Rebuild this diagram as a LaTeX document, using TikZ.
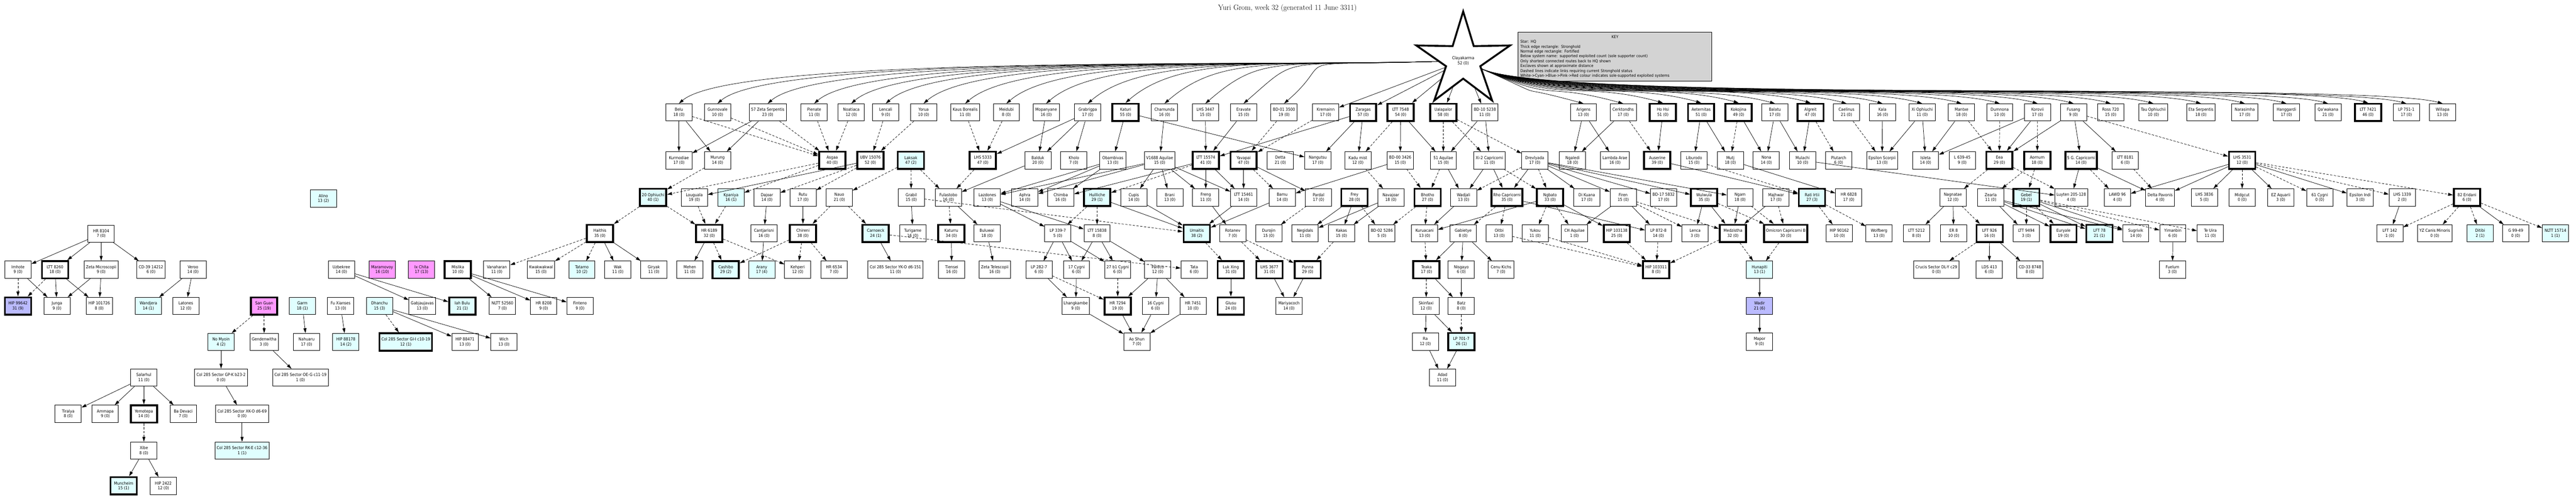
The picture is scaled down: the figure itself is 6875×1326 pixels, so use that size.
\documentclass[tikz,border=0pt]{standalone}
\usepackage{fontspec}
\usetikzlibrary{shapes.geometric,arrows.meta}
\newfontfamily\nf{DejaVu Sans Condensed}
\definecolor{cy}{RGB}{224,255,255}
\definecolor{pk}{RGB}{255,153,255}
\definecolor{bl}{RGB}{187,187,255}
\definecolor{kg}{RGB}{211,211,211}
\newcommand\SYS[5]{\node[n,#1] (#2) at (#3,-#4) {#5};}
\tikzset{
 n/.style={draw, line width=1.3pt, fill=white, align=center, inner sep=5pt, minimum width=70pt, minimum height=46pt, font=\nf\fontsize{11}{13}\selectfont},
 th/.style={line width=5pt},
 c/.style={fill=cy}, p/.style={fill=pk}, b/.style={fill=bl},
 e/.style={-{Triangle[length=13pt,width=8pt]}, line width=1pt},
 ed/.style={e, dash pattern=on 6pt off 4pt},
}
\begin{document}
\begin{tikzpicture}[x=1pt,y=1pt]
\useasboundingbox (0,0) rectangle (6875,-1326);
\node[font=\fontsize{20}{22}\selectfont] (title) at (3436,-22) {Yuri Grom, week 32 (generated 11 June 3311)};
\node[star, star points=5, star point ratio=2.74, minimum size=263pt, draw, line width=5pt, fill=white, align=center, inner sep=0pt, font=\nf\fontsize{11}{13}\selectfont] (hq) at (3905,-162) {Clayakarma\\52 (0)};
\node[draw, line width=1.3pt, fill=kg, anchor=north west, align=left, text width=505pt, minimum height=131pt, inner sep=6pt, font=\nf\fontsize{10.5}{13}\selectfont] (key) at (4051,-85) {\centerline{KEY}\\Star: HQ\\Thick edge rectangle: Stronghold\\Normal edge rectangle: Fortified\\Below system name: supported exploited count (sole supporter count)\\Only shortest connected routes back to HQ shown\\Exclaves shown at approximate distance\\Dashed lines indicate links requiring current Stronghold status\\White->Cyan->Blue->Pink->Red colour indicates sole-supported exploited systems};
% Row A
\SYS{}{belu}{1812}{300}{Belu\\18 (0)}
\SYS{}{gunn}{1915}{300}{Gunnovale\\10 (0)}
\SYS{}{zs57}{2049}{300}{57 Zeta Serpentis\\23 (0)}
\SYS{}{pien}{2173}{300}{Pienate\\11 (0)}
\SYS{}{noat}{2272}{300}{Noatiaca\\12 (0)}
\SYS{}{lenc}{2364}{300}{Lencali\\9 (0)}
\SYS{}{yoru}{2465}{300}{Yorua\\10 (0)}
\SYS{}{kaus}{2576}{300}{Kaus Borealis\\11 (0)}
\SYS{}{meid}{2686}{300}{Meidubi\\8 (0)}
\SYS{}{mopa}{2792}{300}{Mopanyane\\16 (0)}
\SYS{}{grab}{2903}{300}{Grabrigpa\\17 (0)}
\SYS{th}{katu}{3004}{300}{Katuri\\55 (0)}
\SYS{}{cham}{3108}{300}{Chamunda\\16 (0)}
\SYS{}{lh3447}{3217}{300}{LHS 3447\\15 (0)}
\SYS{}{erav}{3319}{300}{Eravate\\15 (0)}
\SYS{}{bd01}{3427}{300}{BD-01 3500\\19 (0)}
\SYS{}{krem}{3538}{300}{Kremainn\\17 (0)}
\SYS{th}{zara}{3638}{300}{Zaragas\\57 (0)}
\SYS{th}{lt7548}{3738}{300}{LTT 7548\\54 (0)}
\SYS{th}{uala}{3852}{300}{Ualapalor\\58 (0)}
\SYS{}{bd10}{3963}{300}{BD-10 5238\\11 (0)}
\SYS{}{arig}{4226}{300}{Arigens\\13 (0)}
\SYS{}{cerk}{4332}{300}{Cerktondhs\\17 (0)}
\SYS{th}{hohs}{4438}{300}{Ho Hsi\\51 (0)}
\SYS{th}{aete}{4540}{300}{Aeternitas\\51 (0)}
\SYS{th}{koko}{4640}{300}{Kokojina\\49 (0)}
\SYS{}{bala}{4737}{300}{Balatu\\17 (0)}
\SYS{th}{algr}{4832}{300}{Algreit\\47 (0)}
\SYS{}{cael}{4928}{300}{Caelinus\\21 (0)}
\SYS{}{kala}{5024}{300}{Kala\\16 (0)}
\SYS{}{xiop}{5130}{300}{Xi Ophiuchi\\11 (0)}
\SYS{}{mant}{5235}{300}{Mantxe\\18 (0)}
\SYS{}{dumn}{5337}{300}{Dumnona\\10 (0)}
\SYS{}{koro}{5438}{300}{Korovii\\17 (0)}
\SYS{}{fusa}{5534}{300}{Fusang\\9 (0)}
\SYS{}{ross}{5633}{300}{Ross 720\\15 (0)}
\SYS{}{tauo}{5747}{300}{Tau Ophiuchii\\10 (0)}
\SYS{}{etas}{5874}{300}{Eta Serpentis\\18 (0)}
\SYS{}{nara}{5991}{300}{Narasimha\\17 (0)}
\SYS{}{hang}{6102}{300}{Hanggardi\\17 (0)}
\SYS{}{qawa}{6213}{300}{Qa'wakana\\21 (0)}
\SYS{th}{lt7421}{6320}{300}{LTT 7421\\46 (0)}
\SYS{}{lp751}{6422}{300}{LP 751-1\\17 (0)}
\SYS{}{will}{6519}{300}{Willapa\\13 (0)}
% Row B
\SYS{}{kurm}{1812}{428}{Kurmodiae\\17 (0)}
\SYS{}{muru}{1915}{428}{Murung\\14 (0)}
\SYS{th}{asga}{2221}{428}{Asgaa\\40 (0)}
\SYS{th}{ubv}{2323}{428}{UBV 15076\\52 (0)}
\SYS{th,c}{laks}{2431}{428}{Laksak\\47 (2)}
\SYS{th}{lh5333}{2623}{428}{LHS 5333\\47 (0)}
\SYS{}{bald}{2770}{428}{Balduk\\20 (0)}
\SYS{}{khol}{2866}{428}{Kholo\\7 (0)}
\SYS{}{obam}{2970}{428}{Obambivas\\13 (0)}
\SYS{}{v1688}{3095}{428}{V1688 Aquilae\\15 (0)}
\SYS{th}{lt15574}{3218}{428}{LTT 15574\\41 (0)}
\SYS{th}{yava}{3319}{428}{Yavapai\\47 (0)}
\SYS{}{dett}{3417}{428}{Detta\\21 (0)}
\SYS{}{nang}{3517}{428}{Nangutsu\\17 (0)}
\SYS{}{kadu}{3624}{428}{Kadu mist\\12 (0)}
\SYS{}{bd00}{3737}{428}{BD-00 3426\\15 (0)}
\SYS{}{aq51}{3852}{428}{51 Aquilae\\15 (0)}
\SYS{}{xi2c}{3975}{428}{Xi-2 Capricorni\\11 (0)}
\SYS{}{drev}{4096}{428}{Drevlyada\\17 (0)}
\SYS{}{ngal}{4197}{428}{Ngaledi\\18 (0)}
\SYS{}{lamb}{4310}{428}{Lambda Arae\\16 (0)}
\SYS{th}{ause}{4423}{428}{Auserine\\39 (0)}
\SYS{}{libu}{4521}{428}{Liburodo\\15 (0)}
\SYS{}{mutj}{4618}{428}{Mutj\\18 (0)}
\SYS{}{nona}{4714}{428}{Nona\\14 (0)}
\SYS{}{mula}{4811}{428}{Mulachi\\10 (0)}
\SYS{}{plut}{4907}{428}{Plutarch\\6 (0)}
\SYS{}{epsc}{5023}{428}{Epsilon Scorpii\\13 (0)}
\SYS{}{isle}{5139}{428}{Isleta\\14 (0)}
\SYS{}{l639}{5237}{428}{L 639-45\\9 (0)}
\SYS{th}{eea}{5336}{428}{Eea\\29 (0)}
\SYS{th}{aorn}{5437}{428}{Aornum\\18 (0)}
\SYS{th}{g5c}{5554}{428}{5 G. Capricorni\\14 (0)}
\SYS{}{lt8181}{5672}{428}{LTT 8181\\6 (0)}
\SYS{th}{lh3531}{5984}{428}{LHS 3531\\12 (0)}
% Row C
\SYS{c}{alin}{863}{530}{Alino\\13 (2)}
\SYS{th,c}{oph20}{1743}{527}{20 Ophiuchi\\40 (1)}
\SYS{}{loug}{1853}{527}{Louguala\\19 (0)}
\SYS{c}{kpan}{1951}{527}{Kpaniya\\16 (1)}
\SYS{}{dajo}{2047}{527}{Dajoar\\14 (0)}
\SYS{}{rutu}{2143}{527}{Rutu\\17 (0)}
\SYS{}{nauo}{2240}{527}{Nauo\\21 (0)}
\SYS{}{grbl}{2432}{527}{Grabil\\15 (0)}
\SYS{}{fula}{2531}{527}{Fulastobo\\16 (0)}
\SYS{}{lazd}{2635}{527}{Lazdones\\13 (0)}
\SYS{}{aphr}{2735}{527}{Aphra\\14 (0)}
\SYS{}{chim}{2831}{527}{Chimba\\16 (0)}
\SYS{th,c}{huil}{2928}{527}{Huilliche\\29 (1)}
\SYS{}{cupi}{3026}{527}{Cupis\\14 (0)}
\SYS{}{bran}{3122}{527}{Brani\\13 (0)}
\SYS{}{fren}{3218}{527}{Freng\\11 (0)}
\SYS{}{lt15461}{3319}{527}{LTT 15461\\14 (0)}
\SYS{}{bamu}{3422}{527}{Bamu\\14 (0)}
\SYS{}{pard}{3519}{527}{Pardal\\17 (0)}
\SYS{th}{frey}{3615}{527}{Frey\\28 (0)}
\SYS{}{nava}{3712}{527}{Navajoar\\18 (0)}
\SYS{th}{bhot}{3810}{527}{Bhotho\\27 (0)}
\SYS{}{wadj}{3906}{527}{Wadjali\\13 (0)}
\SYS{th}{rhoc}{4022}{527}{Rho Capricorni\\35 (0)}
\SYS{th}{ngba}{4137}{527}{Ngbato\\33 (0)}
\SYS{}{diku}{4235}{527}{Di Kuana\\17 (0)}
\SYS{}{fire}{4332}{527}{Firen\\15 (0)}
\SYS{}{bd17}{4440}{527}{BD-17 5832\\17 (0)}
\SYS{th}{wulw}{4548}{527}{Wulwula\\35 (0)}
\SYS{}{ngam}{4644}{527}{Ngam\\18 (0)}
\SYS{}{majh}{4740}{527}{Majhwar\\17 (0)}
\SYS{th,c}{rati}{4836}{527}{Rati Irtii\\27 (3)}
\SYS{}{hr6828}{4934}{527}{HR 6828\\17 (0)}
\SYS{}{nagn}{5212}{527}{Nagnatae\\12 (0)}
\SYS{}{zear}{5313}{527}{Zearla\\11 (0)}
\SYS{th,c}{gebe}{5408}{527}{Gebel\\19 (1)}
\SYS{}{luyt}{5528}{527}{Luyten 205-128\\4 (0)}
\SYS{}{lawd}{5651}{527}{LAWD 96\\4 (0)}
\SYS{}{delp}{5765}{527}{Delta Pavonis\\4 (0)}
\SYS{}{lh3836}{5883}{527}{LHS 3836\\5 (0)}
\SYS{}{midg}{5984}{527}{Midgcut\\0 (0)}
\SYS{}{ezaq}{6087}{527}{EZ Aquarii\\3 (0)}
\SYS{}{cy61}{6191}{527}{61 Cygni\\0 (0)}
\SYS{}{epsi}{6299}{527}{Epsilon Indi\\3 (0)}
\SYS{}{lh1339}{6411}{527}{LHS 1339\\2 (0)}
\SYS{th}{er82}{6584}{527}{82 Eridani\\6 (0)}
% Row D
\SYS{}{hr8104}{270}{624}{HR 8104\\7 (0)}
\SYS{th}{hait}{1601}{623}{Haithis\\35 (0)}
\SYS{th}{hr6189}{1893}{623}{HR 6189\\32 (0)}
\SYS{}{cant}{2039}{623}{Cantjarisni\\16 (0)}
\SYS{th}{chir}{2143}{623}{Chireni\\38 (0)}
\SYS{th,c}{carn}{2337}{623}{Carnoeck\\24 (1)}
\SYS{}{turi}{2436}{623}{Turigame\\16 (0)}
\SYS{th}{katr}{2539}{623}{Katurru\\34 (0)}
\SYS{}{bulu}{2634}{623}{Buluwai\\18 (0)}
\SYS{}{lp339}{2823}{623}{LP 339-7\\5 (0)}
\SYS{}{lt15838}{2928}{623}{LTT 15838\\8 (0)}
\SYS{th,c}{umai}{3194}{623}{Umaitis\\38 (2)}
\SYS{}{rota}{3290}{623}{Rotanev\\7 (0)}
\SYS{}{duro}{3386}{623}{Durojin\\15 (0)}
\SYS{}{negi}{3483}{623}{Negidals\\11 (0)}
\SYS{}{kaka}{3580}{623}{Kakas\\15 (0)}
\SYS{}{bd02}{3688}{623}{BD-02 5286\\5 (0)}
\SYS{}{kuru}{3802}{623}{Kuruacani\\13 (0)}
\SYS{}{gabi}{3905}{623}{Gabietye\\8 (0)}
\SYS{}{oitb}{4001}{623}{Oitbi\\13 (0)}
\SYS{}{yuko}{4097}{623}{Yukou\\11 (0)}
\SYS{}{chaq}{4202}{623}{CH Aquilae\\1 (0)}
\SYS{th}{h103138}{4315}{623}{HIP 103138\\25 (0)}
\SYS{}{lp872}{4426}{623}{LP 872-8\\14 (0)}
\SYS{}{lenca}{4524}{623}{Lenca\\3 (0)}
\SYS{th}{medz}{4625}{623}{Medzistha\\32 (0)}
\SYS{th}{omic}{4766}{623}{Omicron Capricorni B\\30 (0)}
\SYS{}{h90162}{4909}{623}{HIP 90162\\10 (0)}
\SYS{}{wolf}{5015}{623}{Wolfberg\\13 (0)}
\SYS{}{lt5212}{5115}{623}{LTT 5212\\8 (0)}
\SYS{}{er8}{5214}{623}{ER 8\\10 (0)}
\SYS{th}{lf926}{5310}{623}{LFT 926\\16 (0)}
\SYS{}{lt9494}{5408}{623}{LTT 9494\\3 (0)}
\SYS{th}{eury}{5507}{623}{Euryale\\19 (0)}
\SYS{th,c}{lf78}{5603}{623}{LFT 78\\21 (1)}
\SYS{}{sugr}{5700}{623}{Sugrivik\\14 (0)}
\SYS{}{yima}{5799}{623}{Yimanbin\\6 (0)}
\SYS{}{teui}{5899}{623}{Te Uira\\11 (0)}
\SYS{}{lf142}{6378}{623}{LFT 142\\1 (0)}
\SYS{}{yzcm}{6498}{623}{YZ Canis Minoris\\0 (0)}
\SYS{c}{diti}{6619}{623}{Ditibi\\2 (1)}
\SYS{}{g9949}{6714}{623}{G 99-49\\0 (0)}
\SYS{c}{nl15714}{6820}{623}{NLTT 15714\\1 (1)}
% Row E
\SYS{}{imho}{48}{720}{Imhote\\9 (0)}
\SYS{th}{lt8260}{147}{720}{LTT 8260\\18 (0)}
\SYS{}{zetm}{270}{720}{Zeta Microscopii\\9 (0)}
\SYS{}{cd39}{403}{720}{CD-39 14212\\6 (0)}
\SYS{}{vero}{515}{720}{Veroo\\14 (0)}
\SYS{}{uzbe}{911}{720}{Uzbekree\\14 (0)}
\SYS{p}{mara}{1020}{720}{Maramovoy\\16 (10)}
\SYS{p}{ixch}{1125}{720}{Ix Chita\\17 (13)}
\SYS{th}{misl}{1222}{720}{Mislika\\10 (0)}
\SYS{}{vana}{1326}{720}{Vanaharan\\11 (0)}
\SYS{}{kwak}{1444}{720}{Kwakwakwal\\15 (0)}
\SYS{c}{tatm}{1553}{720}{Tatamo\\10 (2)}
\SYS{}{wak}{1649}{720}{Wak\\11 (0)}
\SYS{}{giry}{1745}{720}{Giryak\\11 (0)}
\SYS{}{mehe}{1841}{720}{Mehen\\11 (0)}
\SYS{th,c}{cash}{1937}{720}{Cashibo\\29 (2)}
\SYS{c}{aran}{2033}{720}{Arany\\17 (4)}
\SYS{}{kehp}{2129}{720}{Kehperi\\12 (0)}
\SYS{}{hr6534}{2226}{720}{HR 6534\\7 (0)}
\SYS{}{ykod}{2390}{720}{Col 285 Sector YK-O d6-151\\11 (0)}
\SYS{}{tien}{2540}{720}{Tiensei\\16 (0)}
\SYS{}{zetl}{2655}{720}{Zeta Telescopii\\16 (0)}
\SYS{}{lp282}{2773}{720}{LP 282-7\\6 (0)}
\SYS{}{cy17}{2873}{720}{17 Cygni\\6 (0)}
\SYS{}{cy27}{2983}{720}{27 b1 Cygni\\6 (0)}
\SYS{}{pare}{3090}{720}{Pareco\\12 (0)}
\SYS{}{tata}{3187}{720}{Tata\\6 (0)}
\SYS{th}{lukx}{3285}{720}{Luk Xing\\31 (0)}
\SYS{th}{lh3677}{3388}{720}{LHS 3677\\31 (0)}
\SYS{th}{punn}{3490}{720}{Punna\\29 (0)}
\SYS{th}{teak}{3807}{720}{Teaka\\17 (0)}
\SYS{}{nisg}{3900}{720}{Nisgayo\\6 (0)}
\SYS{}{cenu}{4006}{720}{Cenu Kichs\\7 (0)}
\SYS{th}{h103311}{4420}{720}{HIP 103311\\8 (0)}
\SYS{c}{huna}{4696}{720}{Hunapiti\\13 (1)}
\SYS{}{cruc}{5168}{720}{Crucis Sector DL-Y c29\\0 (0)}
\SYS{}{lds413}{5309}{720}{LDS 413\\6 (0)}
\SYS{}{cd33}{5418}{720}{CD-33 8748\\8 (0)}
\SYS{}{fuel}{5798}{720}{Fuelum\\3 (0)}
% Row F
\SYS{th,b}{h99642}{48}{817}{HIP 99642\\31 (9)}
\SYS{}{jung}{152}{817}{Junga\\9 (0)}
\SYS{}{h101726}{265}{817}{HIP 101726\\8 (0)}
\SYS{c}{wand}{396}{817}{Wandjera\\14 (1)}
\SYS{}{lato}{496}{817}{Latones\\12 (0)}
\SYS{th,p}{sang}{705}{817}{San Guan\\25 (19)}
\SYS{c}{garm}{807}{817}{Garm\\18 (1)}
\SYS{}{fuxi}{909}{817}{Fu Xianses\\13 (0)}
\SYS{c}{dhan}{1013}{817}{Dhanchu\\15 (3)}
\SYS{}{gabj}{1127}{817}{Gabjaujavas\\13 (0)}
\SYS{th,c}{iahb}{1234}{817}{Iah Bulu\\21 (1)}
\SYS{}{nl52560}{1341}{817}{NLTT 52560\\7 (0)}
\SYS{}{hr8208}{1451}{817}{HR 8208\\9 (0)}
\SYS{}{fint}{1548}{817}{Finteno\\9 (0)}
\SYS{}{lhan}{2871}{817}{Lhangkambe\\9 (0)}
\SYS{th}{hr7294}{2983}{817}{HR 7294\\19 (0)}
\SYS{}{cy16}{3084}{817}{16 Cygni\\6 (0)}
\SYS{}{hr7451}{3184}{817}{HR 7451\\10 (0)}
\SYS{th}{glus}{3285}{817}{Glusu\\24 (0)}
\SYS{}{mari}{3440}{817}{Mariyacoch\\14 (0)}
\SYS{}{skin}{3806}{817}{Skinfaxi\\12 (0)}
\SYS{}{batz}{3900}{817}{Batz\\8 (0)}
\SYS{b}{wadi}{4696}{817}{Wadir\\21 (6)}
% Row G
\SYS{c}{nomy}{590}{913}{No Myoin\\4 (2)}
\SYS{}{gend}{705}{913}{Gendenwitha\\3 (0)}
\SYS{}{nahu}{818}{913}{Nahuaru\\17 (0)}
\SYS{c}{h88178}{923}{913}{HIP 88178\\14 (2)}
\SYS{th,c}{colgi}{1083}{913}{Col 285 Sector GI-I c10-19\\12 (1)}
\SYS{}{h88471}{1241}{913}{HIP 88471\\13 (0)}
\SYS{}{wich}{1345}{913}{Wich\\13 (0)}
\SYS{}{aosh}{3034}{912}{Ao Shun\\7 (0)}
\SYS{}{ra}{3804}{912}{Ra\\12 (0)}
\SYS{th,c}{lp701}{3900}{912}{LP 701-7\\26 (1)}
\SYS{}{mapo}{4696}{912}{Mapor\\9 (0)}
% Row H
\SYS{}{sala}{384}{1008}{Salarhul\\11 (0)}
\SYS{}{colgp}{590}{1008}{Col 285 Sector GP-K b23-2\\0 (0)}
\SYS{}{coloe}{802}{1008}{Col 285 Sector OE-G c11-19\\1 (0)}
\SYS{}{adad}{3850}{1008}{Adad\\11 (0)}
% Row I
\SYS{}{tira}{182}{1105}{Tiralya\\8 (0)}
\SYS{}{amma}{281}{1105}{Ammapa\\9 (0)}
\SYS{th}{yemo}{384}{1105}{Yemotepa\\14 (0)}
\SYS{}{bade}{489}{1105}{Ba Devaci\\7 (0)}
\SYS{}{colxk}{646}{1105}{Col 285 Sector XK-O d6-69\\0 (0)}
% Row J,K
\SYS{}{xibe}{384}{1203}{Xibe\\8 (0)}
\SYS{c}{colrk}{646}{1203}{Col 285 Sector RK-E c12-36\\1 (1)}
\SYS{th,c}{munc}{330}{1297}{Muncheim\\15 (1)}
\SYS{}{h2422}{436}{1297}{HIP 2422\\12 (0)}
% HQ edges
\foreach \t in {belu,gunn,zs57,pien,noat,lenc,yoru,kaus,meid,mopa,grab,katu,cham,lh3447,erav,bd01}
  \draw[e] (hq) .. controls +(-500,-15) and +(150,130) .. (\t.north);
\foreach \t in {krem,zara,lt7548,uala,bd10} \draw[e] (hq) -- (\t);
\foreach \t in {arig,cerk,hohs,aete,koko,bala,algr,cael,kala,xiop,mant,dumn,koro,fusa,ross,tauo,etas,nara,hang,qawa,lt7421,lp751,will}
  \draw[e] (hq) .. controls +(260,-115) and +(-220,60) .. (\t.north);
% solid edges
\foreach \a/\b in {belu/kurm,belu/muru,zs57/kurm,zs57/muru,mopa/bald,grab/bald,grab/khol,grab/lh5333,katu/obam,katu/nang,cham/v1688,lh3447/lt15574,erav/lt15574,zara/nang,zara/kadu,zara/lt15574,lt7548/bd00,lt7548/aq51,bd10/aq51,bd10/xi2c,arig/ngal,arig/lamb,cerk/ngal,hohs/ause,aete/libu,aete/mutj,koko/nona,bala/nona,bala/mula,algr/mula,kala/epsc,xiop/epsc,xiop/isle,mant/isle,koro/eea,koro/isle,fusa/g5c,fusa/lt8181,fusa/eea,
 ubv/loug,bald/fula,obam/lazd,obam/aphr,obam/chim,v1688/lazd,v1688/aphr,v1688/cupi,v1688/bran,v1688/fren,v1688/lt15461,lt15574/chim,lt15574/fren,lt15574/lt15461,yava/lt15461,yava/pard,bd00/bamu,aq51/wadj,xi2c/wadj,xi2c/rhoc,drev/rhoc,drev/diku,drev/fire,drev/bd17,drev/wulw,drev/ngam,ause/rati,mutj/hr6828,mula/luyt,g5c/luyt,g5c/delp,lh3531/lawd,lh3531/delp,lh3531/lh3836,lh3531/ezaq,lh3531/epsi,
 dajo/cant,rutu/chir,grbl/turi,fula/bulu,lazd/lp339,lazd/lt15838,huil/umai,cupi/umai,fren/rota,lt15461/umai,bamu/umai,frey/negi,frey/kaka,nava/negi,nava/kaka,wadj/kuru,ngba/kuru,rhoc/lp872,ngba/h103138,fire/chaq,fire/lp872,wulw/lenca,wulw/medz,ngam/medz,majh/medz,nagn/lt5212,nagn/er8,zear/lt9494,zear/eury,zear/lf78,zear/sugr,gebe/lf78,gebe/sugr,lh1339/lf142,er82/g9949,
 hait/wak,hait/giry,hr6189/mehe,cant/aran,carn/ykod,katr/tien,bulu/zetl,lp339/lp282,lp339/cy17,lp339/cy27,lt15838/cy17,lt15838/cy27,lt15838/pare,gabi/teak,gabi/nisg,gabi/cenu,lf926/lds413,lf926/cd33,yima/fuel,
 lp282/lhan,cy17/lhan,pare/hr7294,pare/cy16,pare/hr7451,lukx/glus,lh3677/mari,punn/mari,teak/batz,nisg/batz,huna/wadi,
 hr8104/imho,hr8104/lt8260,hr8104/zetm,hr8104/cd39,imho/jung,lt8260/jung,lt8260/h101726,zetm/jung,zetm/h101726,vero/wand,vero/lato,
 uzbe/gabj,uzbe/iahb,misl/nl52560,misl/hr8208,misl/fint,dhan/h88471,dhan/wich,garm/nahu,fuxi/h88178,
 lhan/aosh,hr7294/aosh,cy16/aosh,hr7451/aosh,skin/ra,skin/lp701,wadi/mapo,nomy/colgp,gend/coloe,ra/adad,lp701/adad,
 sala/tira,sala/amma,sala/yemo,sala/bade,colgp/colxk,colxk/colrk,xibe/munc,xibe/h2422}
  \draw[e] (\a) -- (\b);
% dashed edges
\foreach \a/\b in {belu/asga,gunn/asga,zs57/asga,pien/asga,noat/asga,lenc/ubv,yoru/ubv,kaus/lh5333,meid/lh5333,bd01/yava,krem/yava,lt7548/kadu,uala/aq51,uala/xi2c,uala/drev,cerk/ause,koko/mutj,algr/plut,cael/epsc,mant/eea,dumn/eea,koro/aorn,fusa/lh3531,
 muru/oph20,asga/oph20,asga/kpan,ubv/dajo,ubv/rutu,laks/nauo,laks/grbl,laks/fula,lh5333/fula,lt15574/huil,yava/bamu,bd00/bhot,kadu/nava,aq51/bhot,xi2c/ngba,drev/ngba,drev/wadj,libu/rati,eea/nagn,eea/luyt,aorn/zear,aorn/gebe,g5c/lawd,lh3531/midg,lh3531/cy61,lh3531/lh1339,lh3531/er82,lt8181/delp,
 oph20/hait,oph20/hr6189,loug/hr6189,kpan/hr6189,nauo/chir,nauo/carn,fula/katr,huil/lp339,huil/lt15838,grbl/umai,pard/duro,frey/bd02,bhot/kuru,bhot/bd02,rhoc/gabi,rhoc/oitb,ngba/yuko,ngba/chaq,fire/lenca,fire/medz,wulw/omic,ngam/omic,majh/omic,rati/h90162,rati/wolf,nagn/lf926,gebe/lt9494,gebe/eury,gebe/yima,gebe/teui,er82/lf142,er82/yzcm,er82/diti,er82/nl15714,
 hait/vana,hait/kwak,hait/tatm,hr6189/cash,hr6189/kehp,chir/cash,chir/kehp,chir/hr6534,carn/tata,umai/lukx,rota/lh3677,rota/punn,kaka/punn,kuru/teak,oitb/h103311,yuko/h103311,h103138/h103311,lp872/h103311,medz/h103311,medz/huna,omic/huna,lf926/cruc,
 lp282/hr7294,cy27/hr7294,teak/skin,batz/lp701,imho/h99642,lt8260/h99642,dhan/colgi,sang/nomy,sang/gend,yemo/xibe}
  \draw[ed] (\a) -- (\b);
\end{tikzpicture}
\end{document}
